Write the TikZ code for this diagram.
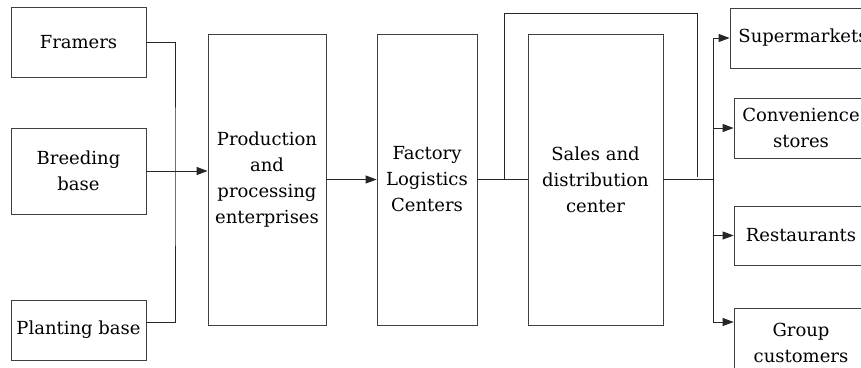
\documentclass[tikz,border=0pt]{standalone}
\usepackage{fontspec}
\setmainfont{DejaVu Serif}
\usetikzlibrary{arrows.meta,calc}
\tikzset{
  box/.style={draw=black!75, line width=0.8pt, inner sep=0pt, align=center, text=black,
    font=\fontsize{18}{26}\selectfont},
  conn/.style={draw=black!85, line width=0.9pt},
  arr/.style={conn, -{Triangle[length=11pt,width=8pt]}}
}
\begin{document}
\begin{tikzpicture}[x=1pt,y=-1pt]
\useasboundingbox[fill=white] (0,0) rectangle (861,367);
% left column
\node[box, minimum width=135, minimum height=70] (framers) at (78.5,42) {Framers};
\node[box, minimum width=135, minimum height=86] (breeding) at (78.5,171) {Breeding\\base};
\node[box, minimum width=135, minimum height=60] (planting) at (78.5,330) {Planting base};
% main chain
\node[box, minimum width=118, minimum height=291] (prod) at (267,179.5) {Production\\and\\processing\\enterprises};
\node[box, minimum width=100, minimum height=291] (factory) at (427,179.5) {Factory\\Logistics\\Centers};
\node[box, minimum width=135, minimum height=291] (sales) at (595.5,179.5) {Sales and\\distribution\\center};
% right column
\node[box, minimum width=146, minimum height=60] (super) at (803,38) {Supermarkets};
\node[box, minimum width=134, minimum height=60] (conv) at (801,128) {Convenience\\stores};
\node[box, minimum width=134, minimum height=59] (rest) at (801,235.5) {Restaurants};
\node[box, minimum width=134, minimum height=70] (group) at (801,343) {Group\\customers};
% coordinates
\coordinate (j1) at (175,171);
\coordinate (plc) at ($(planting.east)+(0,-8)$);
\coordinate (j2) at (504,179.5);
\coordinate (top) at (697,13);
\coordinate (bend) at (697,177);
\coordinate (j3) at (713,179.5);
% connectors
\draw[conn] (framers.east) -| (j1) |- (plc);
\draw[arr] (breeding.east) -- (breeding.east -| prod.west);
\draw[arr] (prod.east) -- (factory.west);
\draw[conn] (factory.east) -- (sales.west);
\draw[conn] (j2) |- (top) -- (bend);
\draw[conn] (sales.east) -- (j3);
\draw[arr] (j3) |- (super.west);
\draw[arr] (j3) |- (conv.west);
\draw[arr] (j3) |- (rest.west);
\draw[arr] (j3) |- ($(group.west)+(0,-21)$);
\end{tikzpicture}
\end{document}
